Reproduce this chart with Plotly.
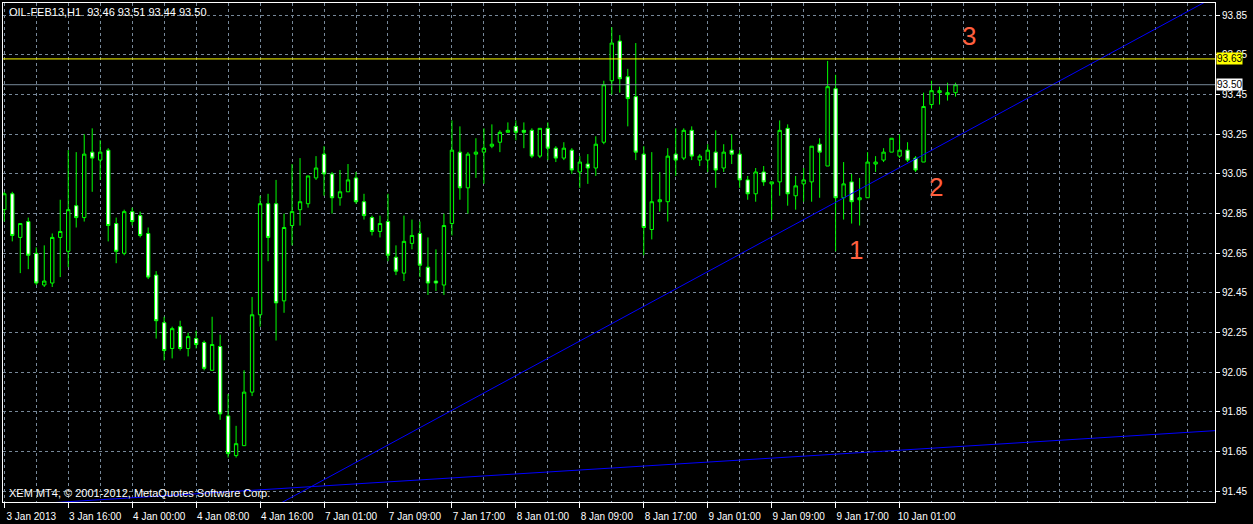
import plotly.graph_objects as go

# ---- data, OIL-FEB13 H1 ----
opens = [92.87, 92.95, 92.73, 92.81, 92.65, 92.49, 92.50, 92.73, 92.66, 92.89,
         92.83, 93.16, 93.12, 93.17, 92.80, 92.65, 92.86, 92.84, 92.75, 92.54,
         92.30, 92.17, 92.28, 92.17, 92.22, 92.20, 92.06, 92.18, 91.83, 91.63,
         91.68, 91.95, 92.34, 92.90, 92.90, 92.41, 92.79, 92.87, 92.90, 93.03,
         93.15, 93.05, 92.93, 92.96, 93.03, 92.91, 92.83, 92.76, 92.81, 92.63,
         92.55, 92.70, 92.75, 92.58, 92.51, 92.49, 92.80, 93.16, 92.98, 93.15,
         93.16, 93.19, 93.21, 93.26, 93.29, 93.27, 93.27, 93.14, 93.28, 93.18,
         93.13, 93.17, 93.06, 93.10, 93.08, 93.21, 93.52, 93.72, 93.54, 93.44,
         93.15, 92.77, 92.91, 92.91, 93.15, 93.13, 93.27, 93.12, 93.12, 93.16,
         93.08, 93.17, 93.15, 93.02, 92.95, 93.06, 93.00, 93.01, 93.28, 92.94,
         93.00, 93.01, 93.20, 93.09, 93.48, 92.93, 93.01, 92.92, 92.93, 93.10,
         93.12, 93.16, 93.14, 93.17, 93.13, 93.11, 93.40, 93.46, 93.45, 93.46]
highs = [92.96, 92.96, 92.80, 92.83, 92.68, 92.69, 92.75, 92.92, 93.17, 93.16,
         93.25, 93.28, 93.22, 93.18, 92.83, 92.87, 92.88, 92.86, 92.78, 92.56,
         92.33, 92.28, 92.31, 92.25, 92.26, 92.21, 92.33, 92.24, 91.94, 91.78,
         92.06, 92.43, 92.94, 92.95, 93.02, 92.85, 93.10, 93.13, 93.04, 93.14,
         93.19, 93.06, 93.07, 93.10, 93.06, 92.95, 92.84, 92.84, 92.95, 92.69,
         92.84, 92.82, 92.81, 92.73, 92.67, 92.85, 93.32, 93.29, 93.16, 93.23,
         93.28, 93.30, 93.27, 93.31, 93.32, 93.31, 93.28, 93.28, 93.31, 93.19,
         93.21, 93.18, 93.14, 93.15, 93.24, 93.52, 93.79, 93.75, 93.58, 93.71,
         93.19, 93.16, 93.06, 93.18, 93.28, 93.28, 93.29, 93.15, 93.20, 93.27,
         93.20, 93.25, 93.17, 93.04, 93.08, 93.09, 93.01, 93.32, 93.30, 93.04,
         93.08, 93.19, 93.23, 93.62, 93.55, 93.11, 93.05, 93.03, 93.16, 93.14,
         93.18, 93.23, 93.25, 93.21, 93.14, 93.46, 93.52, 93.49, 93.51, 93.51]
lows = [92.81, 92.71, 92.55, 92.57, 92.49, 92.48, 92.48, 92.53, 92.58, 92.78,
        92.81, 92.96, 93.02, 92.71, 92.60, 92.64, 92.79, 92.73, 92.52, 92.22,
        92.11, 92.12, 92.16, 92.13, 92.17, 92.06, 92.06, 91.81, 91.62, 91.62,
        91.68, 91.93, 92.28, 92.61, 92.21, 92.35, 92.69, 92.79, 92.88, 93.02,
        92.94, 92.85, 92.89, 92.96, 92.90, 92.82, 92.74, 92.73, 92.61, 92.54,
        92.51, 92.67, 92.53, 92.44, 92.46, 92.44, 92.74, 92.92, 92.85, 93.03,
        93.00, 93.18, 93.16, 93.26, 93.22, 93.18, 93.13, 93.13, 93.12, 93.11,
        93.12, 93.05, 92.98, 93.00, 93.04, 93.20, 93.45, 93.46, 93.29, 93.12,
        92.64, 92.72, 92.86, 92.81, 93.04, 93.12, 93.12, 93.09, 93.06, 92.98,
        93.06, 93.10, 92.98, 92.92, 92.91, 92.99, 92.82, 92.94, 92.89, 92.87,
        92.91, 92.91, 92.93, 93.09, 92.66, 92.82, 92.80, 92.79, 92.93, 93.06,
        93.11, 93.16, 93.13, 93.11, 93.06, 93.11, 93.38, 93.40, 93.42, 93.44]
closes = [92.95, 92.74, 92.80, 92.64, 92.50, 92.51, 92.73, 92.76, 92.87, 92.83,
          93.15, 93.13, 93.16, 92.79, 92.66, 92.86, 92.81, 92.74, 92.53, 92.31,
          92.16, 92.27, 92.17, 92.23, 92.19, 92.07, 92.19, 91.84, 91.64, 91.69,
          91.95, 92.34, 92.90, 92.73, 92.40, 92.78, 92.86, 92.91, 93.04, 93.08,
          93.05, 92.93, 92.96, 93.02, 92.91, 92.84, 92.76, 92.80, 92.64, 92.56,
          92.71, 92.74, 92.59, 92.50, 92.50, 92.79, 93.17, 92.98, 93.15, 93.16,
          93.18, 93.20, 93.26, 93.27, 93.26, 93.26, 93.14, 93.28, 93.18, 93.13,
          93.18, 93.07, 93.11, 93.08, 93.20, 93.50, 93.71, 93.53, 93.43, 93.16,
          92.78, 92.91, 92.92, 93.14, 93.12, 93.27, 93.14, 93.14, 93.17, 93.07,
          93.16, 93.15, 93.02, 92.95, 93.06, 93.01, 93.01, 93.27, 92.95, 92.99,
          93.02, 93.19, 93.16, 93.49, 92.93, 93.00, 92.91, 92.93, 93.11, 93.11,
          93.16, 93.23, 93.17, 93.12, 93.07, 93.39, 93.47, 93.47, 93.46, 93.50]

time_tick_bars = [0, 8, 16, 24, 32, 40, 48, 56, 64, 72, 80, 88, 96, 104, 112]
time_tick_labels = ["3 Jan 2013", "3 Jan 16:00", "4 Jan 00:00", "4 Jan 08:00",
                    "4 Jan 16:00", "7 Jan 01:00", "7 Jan 09:00", "7 Jan 17:00",
                    "8 Jan 01:00", "8 Jan 09:00", "8 Jan 17:00", "9 Jan 01:00",
                    "9 Jan 09:00", "9 Jan 17:00", "10 Jan 01:00"]
price_ticks = [91.45, 91.65, 91.85, 92.05, 92.25, 92.45, 92.65, 92.85,
               93.05, 93.25, 93.45, 93.65, 93.85]

# trend lines (bar index, price)
trend1_bars = [30, 152]
trend1_prices = [91.29, 93.956]
trend2_bars = [-1, 152]
trend2_prices = [91.375, 91.757]

yellow_level = 93.63
bid_level = 93.50
marks_text = ["1", "2", "3"]
marks_bars = [106.6, 116.5, 120.7]
marks_prices = [92.665, 92.984, 93.748]

header = "OIL-FEB13,H1&nbsp;&nbsp;93.46 93.51 93.44 93.50"
copyright_text = "XEM MT4, © 2001-2012, MetaQuotes Software Corp."

FONT = "Liberation Sans"
GRID = "#778899"
bars = list(range(len(opens)))

fig = go.Figure()
fig.add_trace(go.Candlestick(
    x=bars, open=opens, high=highs, low=lows, close=closes,
    increasing=dict(line=dict(color="#00FF00", width=1), fillcolor="#000000"),
    decreasing=dict(line=dict(color="#00FF00", width=1), fillcolor="#FFFFFF"),
    whiskerwidth=0, showlegend=False, hoverinfo="skip"))

fig.add_trace(go.Scatter(x=trend1_bars, y=trend1_prices, mode="lines",
                         line=dict(color="#0000FF", width=1), showlegend=False, hoverinfo="skip"))
fig.add_trace(go.Scatter(x=trend2_bars, y=trend2_prices, mode="lines",
                         line=dict(color="#0000FF", width=1), showlegend=False, hoverinfo="skip"))

fig.add_hline(y=yellow_level, line=dict(color="#FFFF00", width=1))
fig.add_hline(y=bid_level, line=dict(color=GRID, width=1))

for t, bx, pr in zip(marks_text, marks_bars, marks_prices):
    fig.add_annotation(x=bx, y=pr, text=t, showarrow=False,
                       font=dict(family=FONT, size=26, color="#FF6040"))

# price boxes on the axis
fig.add_annotation(xref="paper", x=1, y=yellow_level, text=f"{yellow_level:.2f}",
                   xanchor="left", xshift=1, showarrow=False, bgcolor="#FFFF00",
                   borderpad=0, font=dict(family=FONT, size=10, color="#000000"))
fig.add_annotation(xref="paper", x=1, y=bid_level, text=f"{bid_level:.2f}",
                   xanchor="left", xshift=1, showarrow=False, bgcolor="#FFFFFF",
                   borderpad=0, font=dict(family=FONT, size=10, color="#000000"))

fig.add_annotation(xref="paper", yref="paper", x=0, y=1, xanchor="left", yanchor="top",
                   xshift=4, yshift=-1, text=header, showarrow=False,
                   font=dict(family=FONT, size=11, color="#FFFFFF"))
fig.add_annotation(xref="paper", yref="paper", x=0, y=0, xanchor="left", yanchor="bottom",
                   xshift=4, yshift=1, text=copyright_text, showarrow=False,
                   font=dict(family=FONT, size=11, color="#FFFFFF"))

fig.update_layout(
    width=1253, height=524,
    margin=dict(l=2, r=38, t=2, b=18),
    paper_bgcolor="#000000", plot_bgcolor="#000000",
    font=dict(family=FONT, size=10, color="#FFFFFF"),
    showlegend=False,
    boxgap=0.4,
    xaxis=dict(
        range=[-0.16, 151.46], rangeslider=dict(visible=False),
        tickmode="array", tickvals=time_tick_bars, ticktext=time_tick_labels,
        ticks="outside", ticklen=5, tickcolor="#FFFFFF", ticklabelshift=27,
        showgrid=True, gridcolor=GRID, griddash="3px,3px", gridwidth=1,
        minor=dict(tick0=0, dtick=4, showgrid=True, gridcolor=GRID,
                   griddash="3px,3px", gridwidth=1, ticks=""),
        showline=True, linecolor="#FFFFFF", linewidth=1, mirror=True,
        zeroline=False, fixedrange=True,
    ),
    yaxis=dict(
        side="right", range=[91.396, 93.912],
        tickmode="array", tickvals=price_ticks,
        ticktext=[f"{p:.2f}" for p in price_ticks],
        ticks="outside", ticklen=4, tickcolor="#FFFFFF",
        showgrid=True, gridcolor=GRID, griddash="3px,3px", gridwidth=1,
        showline=True, linecolor="#FFFFFF", linewidth=1, mirror=True,
        zeroline=False, fixedrange=True,
    ),
)

fig.write_html(
    "out.html",
    config={"displayModeBar": False},
    post_script="document.body.style.margin='0';document.body.style.background='#000';",
)
